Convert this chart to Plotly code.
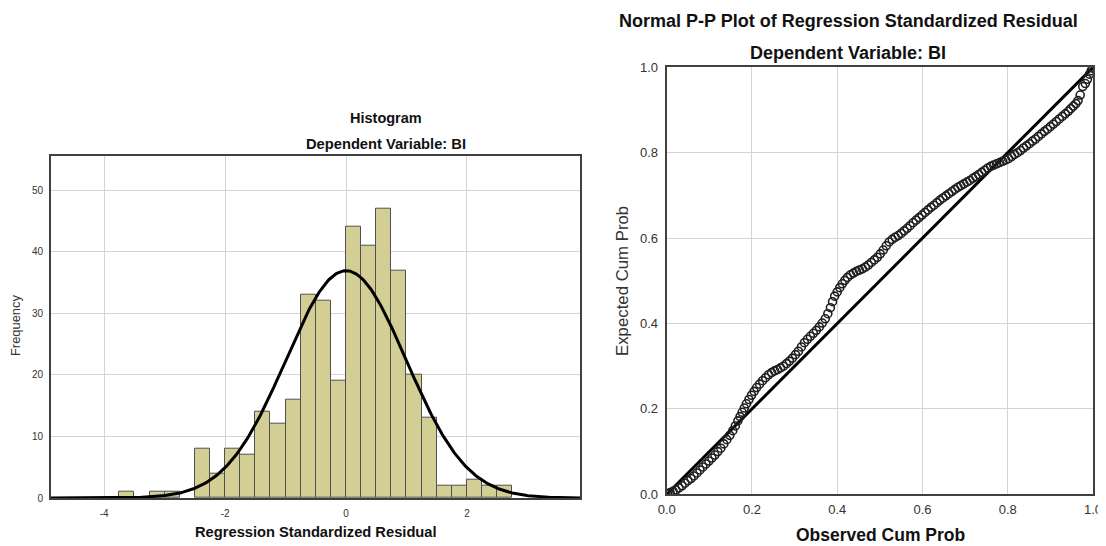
import numpy as np
import plotly.graph_objects as go

FONT = "Liberation Sans, Arial, sans-serif"

# ---------------- Histogram data ----------------
bin_width = 0.25
bin_start = [-3.75, -3.25, -3.0, -2.5, -2.25, -2.0, -1.75, -1.5, -1.25, -1.0,
             -0.75, -0.5, -0.25, 0.0, 0.25, 0.5, 0.75, 1.0, 1.25, 1.5,
             1.75, 2.0, 2.25, 2.5]
counts = [1, 1, 1, 8, 4, 8, 7, 14, 12, 16,
          33, 32, 19, 44, 41, 47, 37, 20, 13, 2,
          2, 3, 2, 2]
resid_mean = 0.0
resid_sd = 0.997
n_obs = sum(counts)
hist_xticks = [-4, -2, 0, 2]
hist_yticks = [0, 10, 20, 30, 40, 50]

# ---------------- P-P plot data ----------------
obs_cum = [0.002, 0.008, 0.015, 0.022, 0.029, 0.036, 0.043, 0.050, 0.057, 0.064,
           0.071, 0.078, 0.085, 0.092, 0.099, 0.106, 0.113, 0.120, 0.127, 0.134,
           0.141, 0.148, 0.155, 0.161, 0.167, 0.172, 0.177, 0.182, 0.187, 0.193,
           0.199, 0.205, 0.211, 0.218, 0.225, 0.232, 0.239, 0.246, 0.253, 0.260,
           0.267, 0.274, 0.281, 0.288, 0.295, 0.302, 0.309, 0.316, 0.323, 0.330,
           0.337, 0.344, 0.351, 0.358, 0.365, 0.372, 0.378, 0.384, 0.389, 0.394,
           0.400, 0.406, 0.412, 0.418, 0.424, 0.431, 0.438, 0.445, 0.452, 0.459,
           0.466, 0.473, 0.480, 0.487, 0.494, 0.501, 0.508, 0.515, 0.522, 0.529,
           0.536, 0.543, 0.550, 0.557, 0.564, 0.571, 0.578, 0.585, 0.592, 0.599,
           0.606, 0.613, 0.620, 0.627, 0.634, 0.641, 0.648, 0.655, 0.662, 0.669,
           0.676, 0.683, 0.690, 0.697, 0.704, 0.711, 0.718, 0.725, 0.732, 0.739,
           0.746, 0.753, 0.760, 0.767, 0.774, 0.781, 0.788, 0.795, 0.802, 0.809,
           0.816, 0.823, 0.830, 0.837, 0.844, 0.851, 0.858, 0.865, 0.872, 0.879,
           0.886, 0.893, 0.900, 0.907, 0.914, 0.921, 0.928, 0.935, 0.942, 0.948,
           0.954, 0.960, 0.965, 0.970, 0.976, 0.982, 0.987, 0.992, 0.996, 0.999]
exp_cum = [0.001, 0.004, 0.007, 0.010, 0.015, 0.020, 0.026, 0.032, 0.037, 0.043,
           0.050, 0.057, 0.064, 0.071, 0.078, 0.085, 0.092, 0.100, 0.108, 0.118,
           0.128, 0.138, 0.149, 0.160, 0.172, 0.182, 0.192, 0.202, 0.212, 0.222,
           0.232, 0.241, 0.250, 0.258, 0.266, 0.273, 0.280, 0.285, 0.289, 0.292,
           0.296, 0.300, 0.306, 0.312, 0.319, 0.327, 0.335, 0.345, 0.355, 0.363,
           0.370, 0.377, 0.384, 0.392, 0.401, 0.411, 0.423, 0.437, 0.451, 0.464,
           0.474, 0.484, 0.493, 0.501, 0.508, 0.514, 0.518, 0.522, 0.525, 0.528,
           0.532, 0.537, 0.543, 0.549, 0.555, 0.563, 0.572, 0.582, 0.591, 0.597,
           0.602, 0.606, 0.611, 0.617, 0.623, 0.629, 0.636, 0.642, 0.648, 0.654,
           0.660, 0.666, 0.672, 0.677, 0.683, 0.689, 0.694, 0.699, 0.704, 0.709,
           0.714, 0.719, 0.723, 0.727, 0.731, 0.735, 0.740, 0.744, 0.749, 0.754,
           0.759, 0.764, 0.768, 0.771, 0.774, 0.777, 0.780, 0.783, 0.786, 0.791,
           0.796, 0.800, 0.805, 0.811, 0.816, 0.821, 0.827, 0.832, 0.838, 0.844,
           0.850, 0.855, 0.861, 0.867, 0.873, 0.879, 0.885, 0.891, 0.897, 0.903,
           0.909, 0.915, 0.922, 0.935, 0.955, 0.962, 0.972, 0.984, 0.992, 0.998]
diag = [0.0, 1.0]
pp_ticks = [0.0, 0.2, 0.4, 0.6, 0.8, 1.0]

# The page body has an 8px default margin; figure is sized to fill the rest.
OFF = 8
W, H = 1106 - OFF, 546 - OFF
def px(x):
    return (x - OFF) / W
def py(y):
    return (H - (y - OFF)) / H

fig = go.Figure()

# Histogram bars
fig.add_trace(go.Bar(
    x=bin_start, y=counts, width=bin_width, offset=0,
    marker=dict(color="#D3CE93", line=dict(color="#505050", width=1)),
    xaxis="x", yaxis="y", showlegend=False, hoverinfo="skip"))

# Normal curve from mean / sd / N
xc = np.linspace(-4.88, 3.87, 400)
yc = n_obs * bin_width * np.exp(-0.5 * ((xc - resid_mean) / resid_sd) ** 2) / (resid_sd * np.sqrt(2 * np.pi))
fig.add_trace(go.Scatter(x=xc, y=yc, mode="lines", line=dict(color="black", width=3),
                         xaxis="x", yaxis="y", showlegend=False, hoverinfo="skip"))

# P-P diagonal
fig.add_trace(go.Scatter(x=diag, y=diag, mode="lines", line=dict(color="black", width=3),
                         xaxis="x2", yaxis="y2", showlegend=False, hoverinfo="skip"))
# P-P points
fig.add_trace(go.Scatter(x=obs_cum, y=exp_cum, mode="markers",
                         marker=dict(symbol="circle-open", size=8, color="#1f1f1f",
                                     line=dict(width=1.6, color="#1f1f1f")),
                         xaxis="x2", yaxis="y2", showlegend=False, hoverinfo="skip"))

grid = "#d4d4d4"
axline = "#404040"

fig.update_layout(
    width=W, height=H,
    margin=dict(l=0, r=0, t=0, b=0, autoexpand=False),
    paper_bgcolor="white", plot_bgcolor="white",
    font=dict(family=FONT, color="#222"),
    bargap=0,
    xaxis=dict(domain=[px(51), px(580)], range=[-4.88, 3.87], anchor="y",
               tickvals=hist_xticks, ticktext=[str(v) for v in hist_xticks],
               showgrid=True, gridcolor=grid, gridwidth=1, zeroline=False,
               showline=True, linecolor=axline, linewidth=2, mirror=True,
               ticks="", tickfont=dict(size=10, color="#333"), ticklabelstandoff=5,
               automargin=False),
    yaxis=dict(domain=[py(498), py(155.7)], range=[0, 55.6], anchor="x",
               tickvals=hist_yticks, ticktext=[str(v) for v in hist_yticks],
               showgrid=True, gridcolor=grid, gridwidth=1, zeroline=False,
               showline=True, linecolor=axline, linewidth=2, mirror=True,
               ticks="", tickfont=dict(size=10, color="#333"), ticklabelstandoff=4,
               automargin=False),
    xaxis2=dict(domain=[px(666.7), px(1093)], range=[0, 1], anchor="y2",
                tickvals=pp_ticks, ticktext=["%.1f" % v for v in pp_ticks],
                showgrid=True, gridcolor=grid, gridwidth=1, zeroline=False,
                showline=True, linecolor=axline, linewidth=2, mirror=True,
                ticks="", tickfont=dict(size=13, color="#333"), ticklabelstandoff=2,
                automargin=False),
    yaxis2=dict(domain=[py(494.3), py(67.3)], range=[0, 1], anchor="x2",
                tickvals=pp_ticks, ticktext=["%.1f" % v for v in pp_ticks],
                showgrid=True, gridcolor=grid, gridwidth=1, zeroline=False,
                showline=True, linecolor=axline, linewidth=2, mirror=True,
                ticks="", tickfont=dict(size=13, color="#333"), ticklabelstandoff=4,
                automargin=False),
)

def ann(text, x, y, size, bold=False, angle=0, color="#111"):
    fig.add_annotation(text=("<b>%s</b>" % text) if bold else text,
                       x=px(x), y=py(y), xref="paper", yref="paper",
                       xanchor="center", yanchor="middle", showarrow=False,
                       textangle=angle, font=dict(family=FONT, size=size, color=color))

ann("Histogram", 385.5, 118, 14.5, bold=True)
ann("Dependent Variable: BI", 385.5, 144, 14.7, bold=True)
ann("Regression Standardized Residual", 315.5, 532, 14.7, bold=True)
ann("Frequency", 15, 326, 12.9, angle=-90, color="#333")

ann("Normal P-P Plot of Regression Standardized Residual", 848, 21, 18, bold=True)
ann("Dependent Variable: BI", 848, 53, 18, bold=True)
ann("Observed Cum Prob", 880, 535, 17.5, bold=True)
ann("Expected Cum Prob", 622, 281, 16.8, angle=-90, color="#333")

fig.write_html("out.html")
